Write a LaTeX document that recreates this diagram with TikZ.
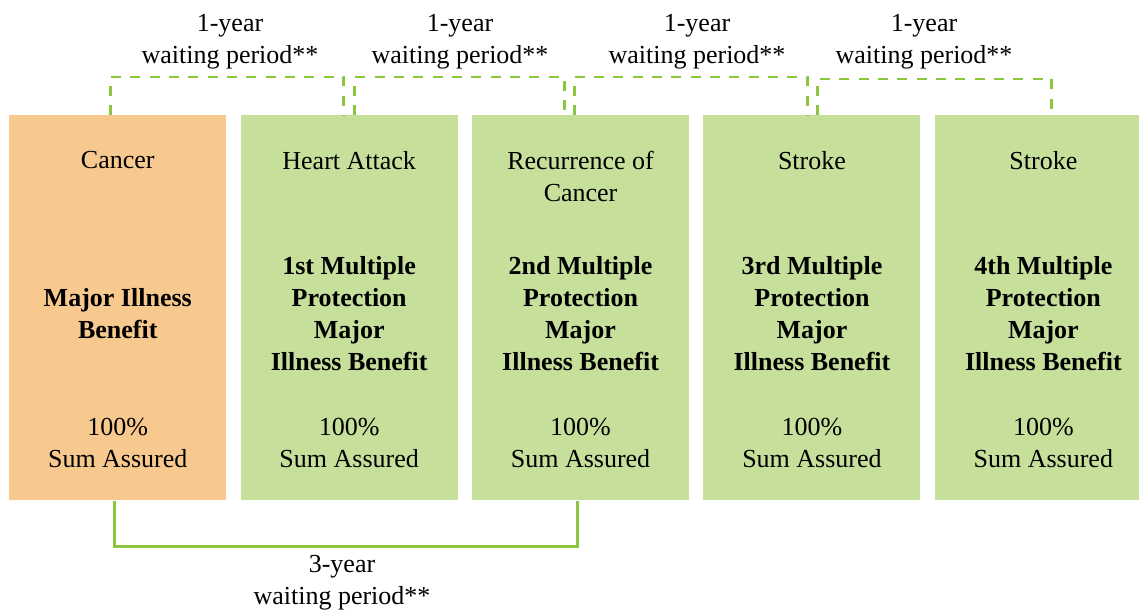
\documentclass[tikz,border=0pt]{standalone}
\usepackage{fontspec}
\setmainfont{Liberation Serif}
\usetikzlibrary{positioning, calc}
\definecolor{peach}{HTML}{F8C98F}
\definecolor{leaf}{HTML}{C6DF9B}
\definecolor{vine}{HTML}{8CC63F}

\begin{document}
\begin{tikzpicture}[x=0.75pt, y=-0.75pt, node distance=10.4pt,
    box node/.style={rectangle, inner sep=0pt, minimum width=162.75pt, minimum height=288.75pt},
    peach node/.style={box node, fill=peach},
    leaf node/.style={box node, fill=leaf},
    body text/.style={align=center, inner sep=0pt, font=\fontsize{19.5}{24}\selectfont},
    wait line/.style={draw=vine, line width=2.2pt},
    wait dash/.style={wait line, dash pattern=on 7.5pt off 7pt}]
\path[use as bounding box, clip] (0,0) rectangle (1139,610);

\node[peach node, anchor=north west] (cancer) at (9,115) {};
\node[leaf node, right=of cancer] (heart) {};
\node[leaf node, right=of heart] (recur) {};
\node[leaf node, right=of recur] (strokeA) {};
\node[leaf node, right=of strokeA] (strokeB) {};

\foreach \b/\t/\m in {cancer/Cancer/{Major Illness\\Benefit},
    heart/Heart Attack/{1st Multiple\\Protection\\Major\\Illness Benefit},
    recur/{Recurrence of\\Cancer}/{2nd Multiple\\Protection\\Major\\Illness Benefit},
    strokeA/Stroke/{3rd Multiple\\Protection\\Major\\Illness Benefit},
    strokeB/Stroke/{4th Multiple\\Protection\\Major\\Illness Benefit}}{
  \node[body text, anchor=north] (\b-title) at ($(\b.north)+(0,36)$) {\t};
  \node[body text, font=\fontsize{19.5}{24}\selectfont\bfseries] (\b-name) at ($(\b.north)+(0,199)$) {\m};
  \node[body text] (\b-sum) at ($(\b.north)+(0,328)$) {100\%\\Sum Assured};
}

% 1-year waiting periods
\draw[wait dash] ($(cancer.north)+(-7.5,0)$) -- ++(0,-38) -| ($(heart.north)+(-5.5,0)$);
\draw[wait dash] ($(heart.north)+(5.5,0)$) -- ++(0,-38) -| ($(recur.north)+(-16.5,0)$);
\draw[wait dash] ($(recur.north)+(-6.5,0)$) -- ++(0,-38) -| ($(strokeA.north)+(-4.5,0)$);
\draw[wait dash] ($(strokeA.north)+(5.5,0)$) -- ++(0,-36) -| ($(strokeB.north)+(8.5,0)$);
\node[body text] (wait1) at (230,42) {1-year\\waiting period**};
\node[body text] (wait2) at (460,42) {1-year\\waiting period**};
\node[body text] (wait3) at (697,42) {1-year\\waiting period**};
\node[body text] (wait4) at (924,42) {1-year\\waiting period**};

% 3-year waiting period
\draw[wait line] ($(cancer.south)+(-3,0)$) -- ++(0,46) -| ($(recur.south)+(-3,0)$);
\node[body text] (wait5) at (342,583) {3-year\\waiting period**};
\end{tikzpicture}
\end{document}
